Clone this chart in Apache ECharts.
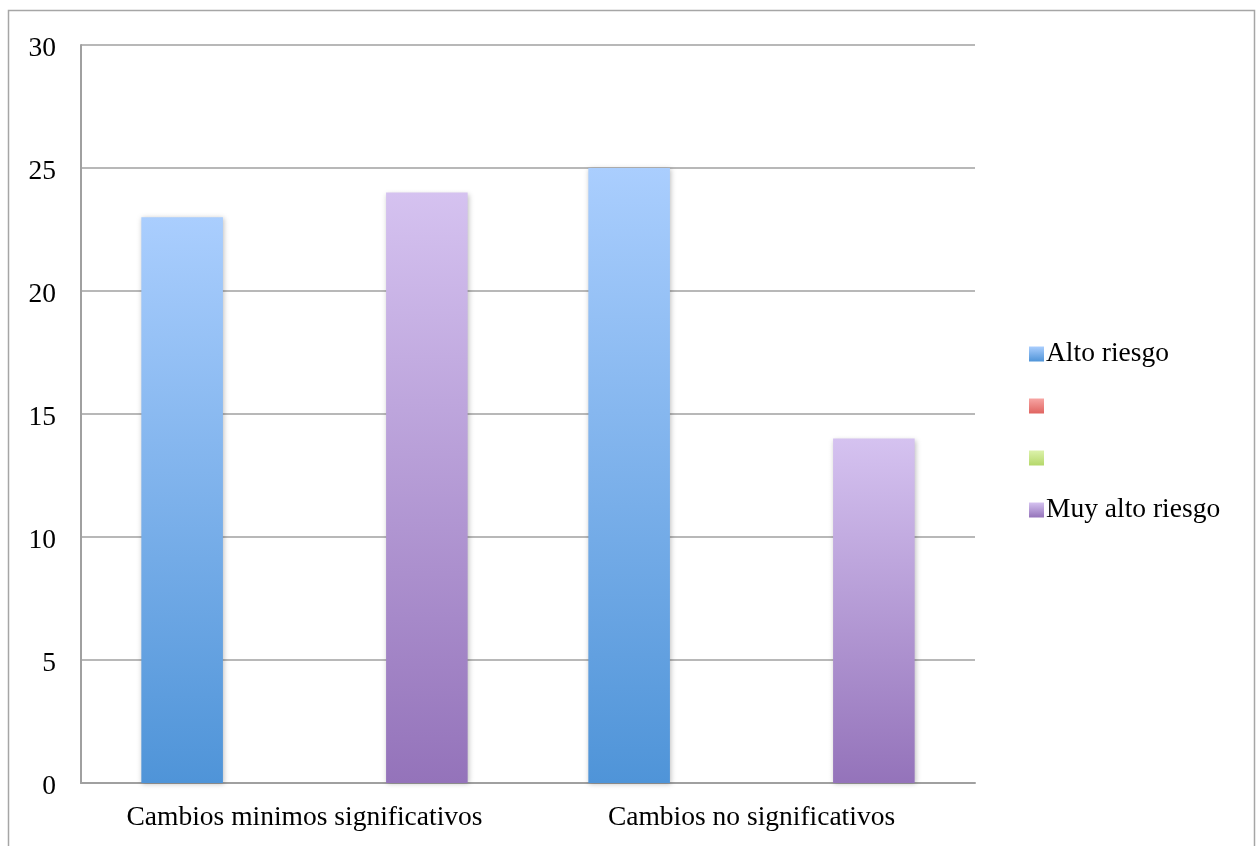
<!DOCTYPE html>
<html>
<head>
<meta charset="utf-8">
<script src="https://cdn.jsdelivr.net/npm/echarts@6/dist/echarts.min.js"></script>
<style>
  html, body { margin: 0; padding: 0; background: #ffffff; }
  #chart { width: 1256px; height: 846px; }
</style>
</head>
<body>
<div id="chart"></div>
<script>
// Categories on the x axis
const categories = ['Cambios minimos significativos', 'Cambios no significativos'];

// Series values per category
const altoRiesgo = [23, 25];
const serie2 = [null, null];
const serie3 = [null, null];
const muyAltoRiesgo = [24, 14];

// Series names as shown in the legend (two unnamed series)
const seriesNames = ['Alto riesgo', 'serie2', 'serie3', 'Muy alto riesgo'];
const legendLabels = ['Alto riesgo', '', '', 'Muy alto riesgo'];

// Value axis ticks
const yMin = 0, yMax = 30, yStep = 5;

const FONT = '"Liberation Serif", "DejaVu Serif", serif';

function grad(top, bottom) {
  return new echarts.graphic.LinearGradient(0, 0, 0, 1, [
    { offset: 0, color: top },
    { offset: 1, color: bottom }
  ]);
}

const colors = [
  grad('#aacefe', '#4f94d8'),
  grad('#f7a5a3', '#e06460'),
  grad('#dcf2ab', '#b5d86a'),
  grad('#d5c2f0', '#9473ba')
];

const dataSets = [altoRiesgo, serie2, serie3, muyAltoRiesgo];

const chart = echarts.init(document.getElementById('chart'), null, { renderer: 'canvas' });

chart.setOption({
  backgroundColor: '#ffffff',
  animation: false,
  graphic: [{
    type: 'rect',
    shape: { x: 8.5, y: 10.5, width: 1246, height: 860 },
    style: { fill: 'none', stroke: '#a6a6a6', lineWidth: 1.5 },
    silent: true,
    z: -1
  }],
  grid: { left: 81, top: 45, width: 894, height: 738, containLabel: false },
  legend: {
    orient: 'vertical',
    left: 1024,
    top: 334,
    itemWidth: 15,
    itemHeight: 15,
    itemGap: 22,
    icon: 'rect',
    data: seriesNames.map((n, i) => ({ name: n, itemStyle: { color: colors[i] } })),
    formatter: name => legendLabels[seriesNames.indexOf(name)] || ' ',
    textStyle: { fontFamily: FONT, fontSize: 27.5, lineHeight: 30, color: '#000', padding: [0, 0, 0, -3] }
  },
  xAxis: {
    type: 'category',
    data: categories,
    axisTick: { show: false },
    axisLine: { show: true, lineStyle: { color: '#a0a0a0', width: 2 } },
    axisLabel: {
      fontFamily: FONT, fontSize: 27.5, color: '#000', margin: 21,
      interval: 0, hideOverlap: false
    }
  },
  yAxis: {
    type: 'value',
    min: yMin,
    max: yMax,
    interval: yStep,
    axisLine: { show: true, lineStyle: { color: '#a0a0a0', width: 2 } },
    axisTick: { show: false },
    splitLine: { show: true, lineStyle: { color: '#a0a0a0', width: 1.5 } },
    // tick labels sit a few pixels below their gridlines
    axisLabel: {
      fontFamily: FONT, fontSize: 27.5, color: '#000', margin: 25,
      verticalAlign: 'top', lineHeight: 8
    }
  },
  series: dataSets.map((d, i) => ({
    name: seriesNames[i],
    type: 'bar',
    data: d,
    barGap: '0%',
    barCategoryGap: '27%',
    itemStyle: {
      color: colors[i],
      shadowColor: 'rgba(0,0,0,0.25)',
      shadowBlur: 5,
      shadowOffsetX: 1,
      shadowOffsetY: 1
    }
  }))
});
</script>
</body>
</html>
